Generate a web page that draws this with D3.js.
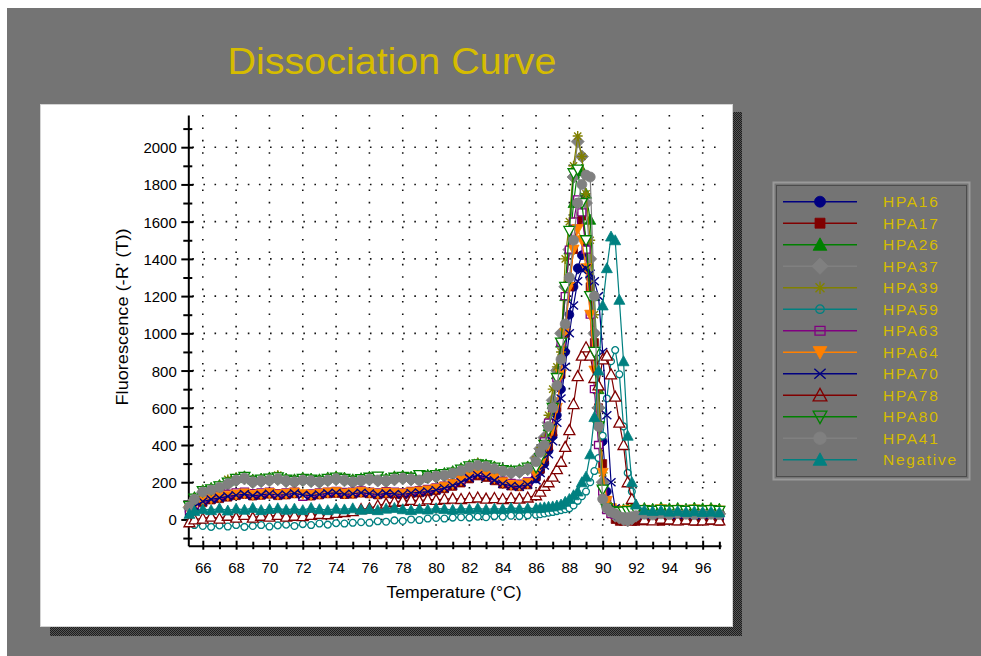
<!DOCTYPE html>
<html><head><meta charset="utf-8">
<script src="https://cdn.jsdelivr.net/npm/d3@7"></script>
<style>
body{margin:0;background:#fff}
svg{display:block}
text{font-family:Arial,"Liberation Sans",sans-serif}
</style>
</head><body>
<svg id="c" width="981" height="656"></svg>
<script>
// ---------- DATA ----------
const temperatures=[65.2,65.5,66,66.5,67,67.5,68,68.5,69,69.5,70,70.5,71,71.5,72,72.5,73,73.5,74,74.5,75,75.5,76,76.5,77,77.5,78,78.5,79,79.5,80,80.5,81,81.5,82,82.5,83,83.5,84,84.5,85,85.5,
86,86.25,86.5,86.75,87,87.25,87.5,87.75,88,88.25,88.5,88.75,89,89.25,89.5,89.75,90,90.25,90.5,90.75,91,91.25,91.5,91.75,92,
92.5,93,93.5,94,94.5,95,95.5,96,96.5,97];

const seriesNames=["HPA16","HPA17","HPA26","HPA37","HPA39","HPA59","HPA63","HPA64","HPA70","HPA78","HPA80","HPA41","Negative"];
const seriesColors=["#000080","#800000","#008000","#808080","#808000","#008080","#800080","#ff8000","#000080","#800000","#008000","#808080","#008080"];
const seriesMarkers=["circle","square","triangle","diamond","asterisk","opencircle","opensquare","downtriangle","x","opentriangle","opendowntriangle","octagon","triangle"];

const hpa16=[45,72,98,110,118,126,132,138,130,134,140,132,136,142,134,130,136,142,145,137,140,146,141,136,142,139,136,144,147,152,160,170,184,202,225,242,232,214,196,184,180,192,
220,260,300,370,450,560,700,900,1100,1250,1350,1420,1480,1300,1000,700,420,150,50,20,15,10,15,20,25,
30,25,35,30,28,35,30,25,32,28];
const hpa17=[35,65,90,105,112,120,128,135,126,130,136,128,132,138,130,126,132,138,140,134,136,142,138,132,138,135,132,140,143,148,155,165,178,196,218,234,226,208,190,180,176,186,
230,270,320,390,470,600,780,1000,1250,1450,1600,1630,1500,1250,950,600,300,100,30,0,-10,-10,-5,-10,-10,
-8,-5,-10,-6,-8,-5,-10,-8,-6,-10];
const hpa26=[80,120,158,170,185,205,222,232,215,220,226,232,220,216,226,220,216,226,232,225,216,222,230,224,220,232,236,230,226,240,246,250,260,276,292,302,296,285,272,265,270,285,
300,350,420,500,620,780,950,1200,1450,1700,1870,1880,1750,1610,1200,700,200,90,60,55,50,55,60,60,60,
62,58,65,60,62,58,64,60,62,58];
const hpa37=[65,105,145,155,170,190,210,220,200,205,210,216,205,200,210,205,200,210,216,210,200,207,215,209,205,215,220,215,210,225,230,235,245,260,277,287,281,270,257,250,255,270,
330,380,440,520,640,800,1000,1250,1450,1840,2030,1950,1700,1400,1000,600,200,80,40,20,10,0,-5,5,20,
30,25,35,30,35,40,30,35,40,30];
const hpa39=[75,115,155,165,182,215,225,230,212,216,222,238,214,210,220,214,210,220,228,220,210,218,226,218,215,226,230,226,220,234,240,244,254,270,290,305,292,280,266,260,265,280,
320,370,430,560,700,820,900,1400,1600,1900,2060,1950,1750,1500,1100,700,250,90,50,40,30,30,35,40,45,
45,40,48,42,45,40,46,42,45,40];
const hpa59=[-20,-30,-35,-40,-32,-38,-30,-40,-35,-30,-38,-32,-28,-35,-25,-30,-22,-28,-20,-22,-18,-15,-18,-10,-12,-5,-8,0,-3,5,8,5,10,12,10,15,12,18,15,20,18,22,
25,28,32,36,40,45,50,55,60,75,100,125,150,200,260,330,450,650,850,910,780,500,250,150,50,
30,25,28,22,25,20,24,20,22,18];
const hpa63=[50,80,110,122,130,138,145,150,142,146,150,142,146,150,122,140,146,150,154,148,150,156,150,146,152,149,146,154,158,164,172,182,196,214,236,252,244,226,208,196,192,204,
260,330,420,520,600,760,950,1200,1450,1600,1720,1650,1450,1100,700,400,150,50,30,25,20,20,25,20,25,
28,25,30,26,28,32,26,28,30,25];
const hpa64=[48,75,100,112,120,128,134,140,132,136,142,134,138,144,136,132,138,144,147,139,142,148,143,138,144,141,138,146,150,156,165,176,190,210,235,250,240,222,200,186,182,195,
240,280,330,400,480,600,780,1000,1250,1450,1560,1500,1350,1100,800,500,250,100,60,50,40,45,50,48,50,
52,48,55,50,52,48,54,50,52,48];
const hpa70=[42,70,96,108,116,124,130,136,128,132,138,130,134,140,132,128,134,140,143,135,138,144,139,134,140,137,134,142,145,150,158,168,182,200,222,238,228,210,192,180,176,188,
210,250,290,350,420,520,650,820,1000,1150,1280,1340,1350,1320,1280,1200,900,560,200,60,20,15,20,18,20,
22,20,25,22,20,25,22,20,24,20];
const hpa78=[-15,0,5,15,5,20,10,25,10,20,15,25,15,20,18,25,30,28,35,40,45,55,60,75,85,95,100,105,100,108,105,110,112,110,115,118,112,115,110,115,112,118,
130,150,180,200,230,270,310,390,480,620,770,880,925,880,760,720,860,880,780,660,520,400,200,110,40,
0,-5,5,0,-5,0,-5,-5,0,-5];
const hpa80=[72,112,152,162,178,198,218,228,208,214,219,226,214,208,218,214,208,218,225,218,208,216,224,230,214,224,229,224,238,232,238,244,252,268,285,296,290,278,265,258,262,278,
280,330,400,480,600,760,950,1250,1550,1860,1880,1700,1500,1200,900,500,160,60,45,40,40,42,45,45,48,
50,46,52,48,50,46,52,48,50,46];
const hpa41=[68,108,148,158,172,192,212,222,203,208,212,219,208,203,212,208,203,212,219,212,203,210,218,212,208,218,223,218,212,228,233,238,248,262,280,290,284,272,260,252,258,272,
310,360,400,500,600,720,860,1050,1300,1500,1700,1800,1850,1840,1200,500,110,60,40,30,15,10,10,15,20,
28,24,30,26,32,28,26,30,28,26];
const negative=[30,45,55,50,60,48,58,52,62,50,56,60,52,58,50,62,55,50,58,54,60,52,56,50,58,62,55,50,57,53,60,56,52,58,55,60,54,58,56,62,58,60,
60,62,65,68,70,75,80,95,110,130,150,200,230,350,550,800,1150,1350,1520,1500,1180,850,450,200,80,
50,45,48,42,45,40,44,40,42,38];

const seriesValues=[hpa16,hpa17,hpa26,hpa37,hpa39,hpa59,hpa63,hpa64,hpa70,hpa78,hpa80,hpa41,negative];

const xMajorTicks=[66,68,70,72,74,76,78,80,82,84,86,88,90,92,94,96];
const xMinorTicks=[67,69,71,73,75,77,79,81,83,85,87,89,91,93,95,97];
const yMajorTicks=[0,200,400,600,800,1000,1200,1400,1600,1800,2000];
const yMinorTicks=[-100,100,300,500,700,900,1100,1300,1500,1700,1900,2100];

// ---------- DRAW ----------
const svg=d3.select("#c");
const defs=svg.append("defs");
const pat=defs.append("pattern").attr("id","sh").attr("width",2).attr("height",2).attr("patternUnits","userSpaceOnUse");
pat.append("rect").attr("width",2).attr("height",2).attr("fill","#555");
pat.append("rect").attr("width",1).attr("height",1).attr("fill","#1e1e1e");
pat.append("rect").attr("x",1).attr("y",1).attr("width",1).attr("height",1).attr("fill","#1e1e1e");

svg.append("rect").attr("x",7).attr("y",8).attr("width",974).attr("height",648).attr("fill","#747474");

const gold="#d6bc00";
svg.append("text").attr("x",392).attr("y",74).attr("text-anchor","middle")
  .attr("font-size",36).attr("fill",gold).attr("textLength",329).attr("lengthAdjust","spacingAndGlyphs")
  .text("Dissociation Curve");

// panel + shadow
svg.append("rect").attr("x",733).attr("y",112).attr("width",9).attr("height",524).attr("fill","url(#sh)");
svg.append("rect").attr("x",50).attr("y",627).attr("width",692).attr("height",9).attr("fill","url(#sh)");
svg.append("rect").attr("x",40.5).attr("y",104.5).attr("width",692).attr("height",522).attr("fill","#fff").attr("stroke","#d4d4d4");

const x=d3.scaleLinear().domain([65.13,97.1]).range([188.3,721]);
const y=d3.scaleLinear().domain([-141,2173]).range([545.7,115]);

// grid
const grid=svg.append("g");
grid.selectAll("line.v").data(xMajorTicks).join("line")
  .attr("x1",d=>x(d)).attr("x2",d=>x(d)).attr("y1",y(2173)).attr("y2",y(-141))
  .attr("stroke","#111").attr("stroke-width",1.6).attr("stroke-dasharray","1.6,10.8");
grid.selectAll("line.h").data(yMajorTicks).join("line")
  .attr("x1",x(65.13)+4).attr("x2",x(97.1)).attr("y1",d=>y(d)).attr("y2",d=>y(d))
  .attr("stroke","#111").attr("stroke-width",1.6).attr("stroke-dasharray","1.6,9.5");

// axes
const tickFont=15;
const yAx=svg.append("g").attr("transform",`translate(${x(65.13)},0)`)
  .call(d3.axisLeft(y).tickValues(yMajorTicks).tickFormat(d3.format("d")).tickSizeInner(7).tickSizeOuter(0).tickPadding(4.5));
yAx.select(".domain").attr("stroke","#000").attr("stroke-width",2);
yAx.selectAll(".tick line").attr("x1",5).attr("stroke-width",2);
yAx.selectAll(".tick text").attr("dy",0).attr("y",5.5).attr("font-size",tickFont).attr("font-family","Arial, 'Liberation Sans', sans-serif").attr("fill","#000");
const yMin=svg.append("g").attr("transform",`translate(${x(65.13)},0)`)
  .call(d3.axisLeft(y).tickValues(yMinorTicks).tickFormat("").tickSizeInner(5).tickSizeOuter(0));
yMin.select(".domain").remove();
yMin.selectAll(".tick line").attr("x1",4).attr("stroke-width",2);

const xAx=svg.append("g").attr("transform",`translate(0,${y(-141)})`)
  .call(d3.axisBottom(x).tickValues(xMajorTicks).tickFormat(d3.format("d")).tickSizeInner(4).tickSizeOuter(0).tickPadding(4));
xAx.select(".domain").attr("stroke","#000").attr("stroke-width",2);
xAx.selectAll(".tick line").attr("y1",-5).attr("stroke-width",2);
xAx.selectAll(".tick text").attr("dy",0).attr("y",27).attr("font-size",tickFont).attr("font-family","Arial, 'Liberation Sans', sans-serif").attr("fill","#000");
const xMin=svg.append("g").attr("transform",`translate(0,${y(-141)})`)
  .call(d3.axisBottom(x).tickValues(xMinorTicks).tickFormat("").tickSizeInner(3.5).tickSizeOuter(0));
xMin.select(".domain").remove();
xMin.selectAll(".tick line").attr("y1",-4).attr("stroke-width",2);

svg.append("text").attr("x",454).attr("y",598).attr("text-anchor","middle").attr("font-size",16)
  .attr("textLength",135).attr("lengthAdjust","spacingAndGlyphs").text("Temperature (°C)");
svg.append("text").attr("transform","translate(128,317) rotate(-90)").attr("text-anchor","middle").attr("font-size",16)
  .attr("textLength",177).attr("lengthAdjust","spacingAndGlyphs").text("Fluorescence (-R' (T))");

// markers
function markerPath(type,k){
  const p=v=>+(v*k).toFixed(2);
  switch(type){
    case "circle": return d3.symbol(d3.symbolCircle,Math.PI*Math.pow(4.4*k,2))();
    case "octagon": return d3.symbol(d3.symbolCircle,Math.PI*Math.pow(5*k,2))();
    case "opencircle": return d3.symbol(d3.symbolCircle,Math.PI*Math.pow(3.4*k,2))();
    case "square": return `M${p(-4)},${p(-4)}h${p(8)}v${p(8)}h${p(-8)}z`;
    case "opensquare": return `M${p(-4)},${p(-3.5)}h${p(8)}v${p(7)}h${p(-8)}z`;
    case "triangle": case "opentriangle": return `M0,${p(-5.5)}L${p(5.5)},${p(4.5)}L${p(-5.5)},${p(4.5)}Z`;
    case "downtriangle": case "opendowntriangle": return `M${p(-5.5)},${p(-4.5)}L${p(5.5)},${p(-4.5)}L0,${p(5.5)}Z`;
    case "diamond": return `M0,${p(-6.5)}L${p(6.5)},0L0,${p(6.5)}L${p(-6.5)},0Z`;
    case "asterisk": return `M${p(-5)},0H${p(5)}M0,${p(-5)}V${p(5)}M${p(-3.6)},${p(-3.6)}L${p(3.6)},${p(3.6)}M${p(-3.6)},${p(3.6)}L${p(3.6)},${p(-3.6)}`;
    case "x": return `M${p(-4.5)},${p(-4)}L${p(4.5)},${p(4)}M${p(-4.5)},${p(4)}L${p(4.5)},${p(-4)}`;
  }
}
function styleMarker(sel,type,color,legend){
  const open=type.startsWith("open");
  const lineOnly=(type==="asterisk"||type==="x");
  if(lineOnly) sel.attr("fill","none").attr("stroke",color).attr("stroke-width",1.4);
  else if(open) sel.attr("fill",legend?"none":"#fff").attr("stroke",color).attr("stroke-width",1.3);
  else sel.attr("fill",color).attr("stroke",color).attr("stroke-width",0.8);
}

const line=d3.line().x(d=>x(d[0])).y(d=>y(d[1]));
const plot=svg.append("g");
seriesNames.forEach((name,si)=>{
  const pts=seriesValues[si].map((v,i)=>[temperatures[i],v]);
  const g=plot.append("g");
  g.append("path").datum(pts).attr("d",line).attr("fill","none").attr("stroke",seriesColors[si]).attr("stroke-width",1.2);
  const m=g.selectAll("path.m").data(pts).join("path").attr("class","m")
    .attr("transform",d=>`translate(${x(d[0])},${y(d[1])})`).attr("d",markerPath(seriesMarkers[si],1));
  styleMarker(m,seriesMarkers[si],seriesColors[si],false);
});

// legend
const lg=svg.append("g");
lg.append("rect").attr("x",773.5).attr("y",182.5).attr("width",196).attr("height",297).attr("fill","#747474").attr("stroke","#9a9a9a").attr("stroke-width",2);
lg.append("rect").attr("x",776.5).attr("y",185.5).attr("width",190).attr("height",291).attr("fill","none").attr("stroke","#4c4c4c").attr("stroke-width",1);
seriesNames.forEach((name,i)=>{
  const yy=201.7+21.5*i;
  lg.append("line").attr("x1",783).attr("x2",857).attr("y1",yy).attr("y2",yy).attr("stroke",seriesColors[i]).attr("stroke-width",1.5);
  const mk=lg.append("path").attr("transform",`translate(820,${yy})`).attr("d",markerPath(seriesMarkers[i],1.25));
  styleMarker(mk,seriesMarkers[i],seriesColors[i],true);
  lg.append("text").attr("x",883).attr("y",yy+5.5).attr("font-size",15.5).attr("letter-spacing",1.7).attr("fill",gold).text(name);
});
</script>
</body></html>
